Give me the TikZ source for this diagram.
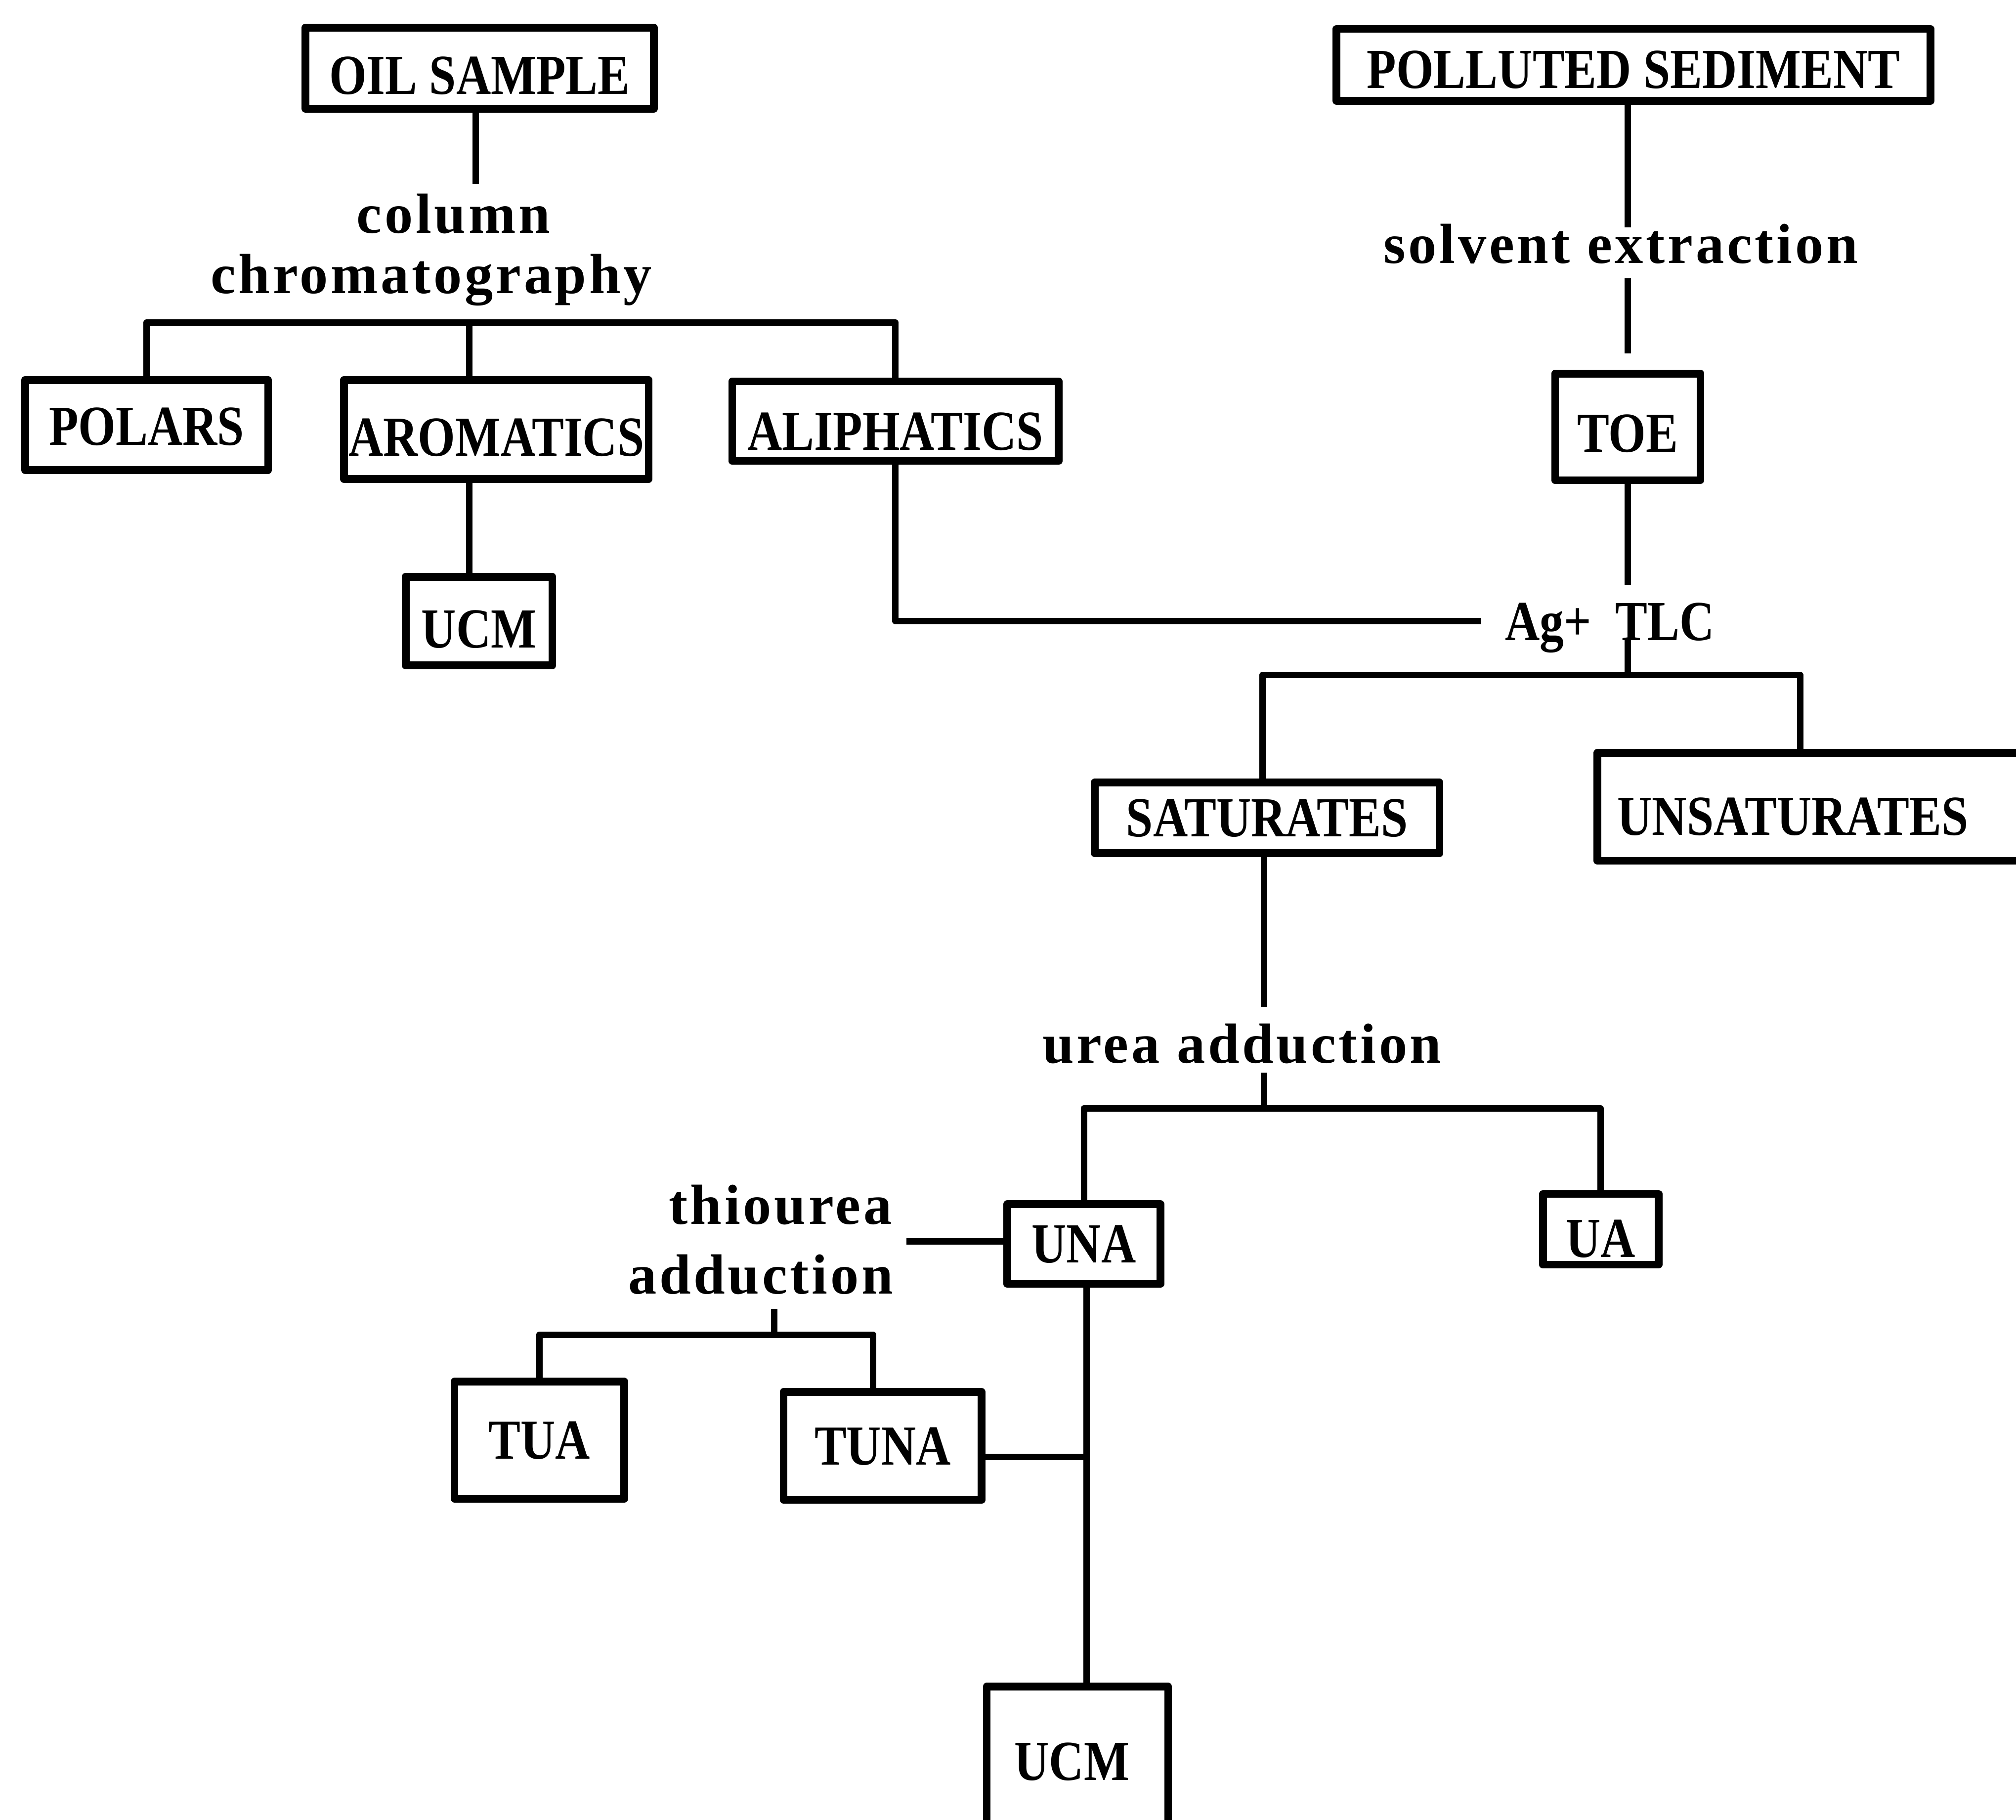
\documentclass[tikz,border=0pt]{standalone}
\usepackage{fontspec}
\setmainfont{Liberation Serif}
\newfontfamily\capfont{Liberation Serif}[FakeStretch=0.85]
\newfontfamily\lowfont{Liberation Serif}[LetterSpace=5]
\tikzset{
  box/.style={draw, rectangle, line width=3pt, line join=round, inner sep=0pt,
    text height=14.6pt, text depth=0pt,
    font={\capfont\bfseries\fontsize{22pt}{26pt}\selectfont}},
  tdown/.style={text height=14.6pt+#1pt},
  lbl/.style={inner sep=0pt, font={\lowfont\bfseries\fontsize{22pt}{26pt}\selectfont}},
  caplbl/.style={inner sep=0pt, font={\capfont\bfseries\fontsize{22pt}{26pt}\selectfont}},
  conn/.style={line width=2.5pt, line join=round}
}
\begin{document}
\begin{tikzpicture}[x=0.5pt,y=-0.5pt]
\useasboundingbox (0,0) rectangle (1568,1415);
\fill[white] (0,0) rectangle (1568,1415);
\clip (0,0) rectangle (1568,1415);

% boxes
\node[box, tdown=5.5, minimum width=135.5pt, minimum height=31.5pt] (oil) at (373,53) {OIL SAMPLE};
\node[box, tdown=3.5, minimum width=231pt, minimum height=28pt] (polluted) at (1270.5,50.5) {POLLUTED SEDIMENT};
\node[box, tdown=1, minimum width=94.5pt, minimum height=35pt] (polars) at (114,330.5) {POLARS};
\node[box, tdown=6, minimum width=118.5pt, minimum height=38.5pt] (arom) at (386,334) {AROMATICS};
\node[box, tdown=8, minimum width=127pt, minimum height=31pt] (aliph) at (696.5,327.5) {ALIPHATICS};
\node[box, tdown=6, minimum width=57pt, minimum height=34.5pt] (ucma) at (372.5,483) {UCM};
\node[box, tdown=5, minimum width=56.5pt, minimum height=41.5pt] (toe) at (1266,332) {TOE};
\node[box, tdown=0, minimum width=134pt, minimum height=27.5pt] (sat) at (985.5,636) {SATURATES};
\node[box, tdown=7.5, anchor=west, text width=156.5pt, align=left, inner xsep=7.75pt, minimum height=42pt] (unsat) at (1239.5,627.5) {UNSATURATES};
\node[box, tdown=0, minimum width=59.5pt, minimum height=31pt] (una) at (843,967.5) {UNA};
\node[box, tdown=7, minimum width=45pt, minimum height=27.5pt] (ua) at (1245,956) {UA};
\node[box, tdown=0, minimum width=66pt, minimum height=45.5pt] (tua) at (419.5,1120) {TUA};
\node[box, tdown=0, minimum width=77pt, minimum height=42pt] (tuna) at (686.5,1124.5) {TUNA};
\node[box, tdown=-4, text width=49pt, align=left, inner xsep=10.75pt, minimum height=62.5pt] (ucmb) at (838,1374) {UCM};

% labels
\node[lbl, anchor=base] (col1) at (352.6,181.4) {column};
\node[lbl, anchor=base] (col2) at (335.5,228) {chromatography};
\node[lbl, anchor=base] (solv) at (1260.5,204.5) {solvent extraction};
\node[caplbl, anchor=base] (ag) at (1252,498) {Ag+\ \ TLC};
\node[lbl, anchor=base] (urea) at (966,826.5) {urea adduction};
\node[lbl, anchor=base east] (thio1) at (694,952) {thiourea};
\node[lbl, anchor=base east] (thio2) at (695,1006) {adduction};

% coordinates
\coordinate (c1) at (370,143);
\coordinate (b1) at (365,251);
\coordinate (agl) at (1152,483);
\coordinate (se1) at (1266,177);
\coordinate (se2) at (1266,216.5);
\coordinate (se3) at (1266,275);
\coordinate (ag1) at (1266,455);
\coordinate (ag2) at (1266,496);
\coordinate (b2) at (1266,525);
\coordinate (b2L) at (982,525);
\coordinate (b2R) at (1400,525);
\coordinate (ua1) at (983,783);
\coordinate (ua2) at (983,834);
\coordinate (b3) at (983,862);
\coordinate (th1) at (705,965.5);
\coordinate (th2) at (602,1018);
\coordinate (th3) at (602,1038);
\coordinate (tn) at (679,1038);
\coordinate (u) at (845,1133);

% connectors
\draw[conn] (c1 |- oil.south) -- (c1);
\draw[conn] (polars.north) -- (polars.north |- b1) -- (aliph.north |- b1) -- (aliph.north);
\draw[conn] (b1) -- (b1 |- arom.north);
\draw[conn] (b1 |- arom.south) -- (b1 |- ucma.north);
\draw[conn] (aliph.south) |- (agl);
\draw[conn] (se1 |- polluted.south) -- (se1);
\draw[conn] (se2) -- (se3);
\draw[conn] (toe.south) -- (ag1);
\draw[conn] (ag2) -- (b2);
\draw[conn] (b2L |- sat.north) -- (b2L) -- (b2R) -- (b2R |- unsat.north);
\draw[conn] (ua1 |- sat.south) -- (ua1);
\draw[conn] (ua2) -- (b3);
\draw[conn] (una.north) -- (una.north |- b3) -- (ua.north |- b3) -- (ua.north);
\draw[conn] (th1) -- (th1 -| una.west);
\draw[conn] (th2) -- (th3);
\draw[conn] (tua.north) -- (tua.north |- th3) -- (tn) -- (tn |- tuna.north);
\draw[conn] (u |- una.south) -- (u |- ucmb.north);
\draw[conn] (tuna.east |- u) -- (u);
\end{tikzpicture}
\end{document}
